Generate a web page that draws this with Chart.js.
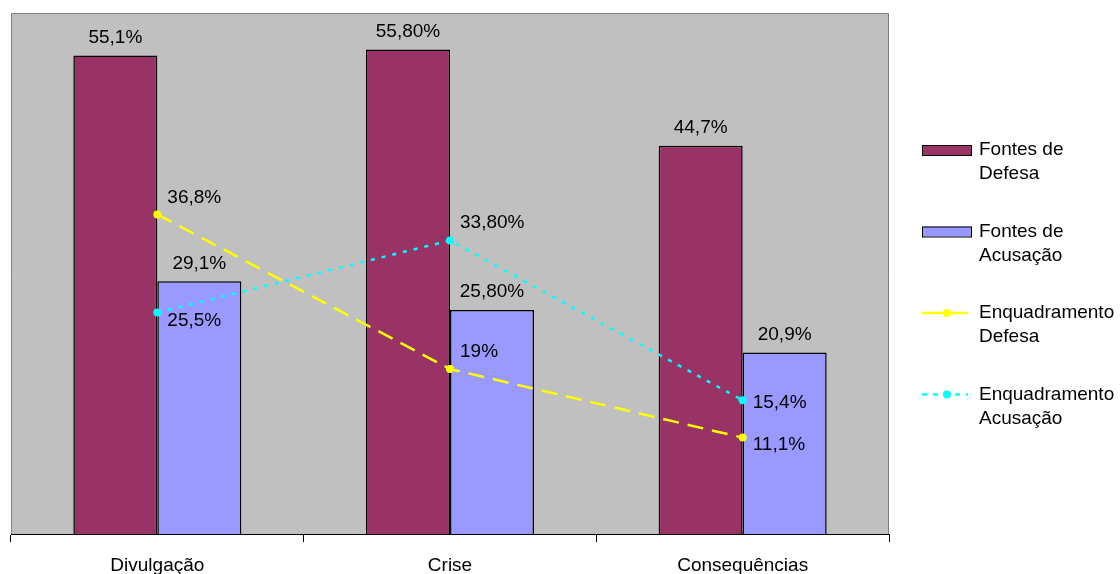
<!DOCTYPE html>
<html>
<head>
<meta charset="utf-8">
<script src="https://cdn.jsdelivr.net/npm/chart.js@4/dist/chart.umd.min.js"></script>
<style>
  body { margin: 0; background: #fff; }
  #wrap { width: 1120px; height: 574px; position: relative; }
</style>
</head>
<body>
<div id="wrap"><canvas id="c"></canvas></div>
<script>
var categories = ['Divulgação', 'Crise', 'Consequências'];
var fontesDefesa = [55.1, 55.8, 44.7];
var fontesAcusacao = [29.1, 25.8, 20.9];
var enqDefesa = [36.8, 19, 11.1];
var enqAcusacao = [25.5, 33.8, 15.4];
var lblFontesDefesa = ['55,1%', '55,80%', '44,7%'];
var lblFontesAcusacao = ['29,1%', '25,80%', '20,9%'];
var lblEnqDefesa = ['36,8%', '19%', '11,1%'];
var lblEnqAcusacao = ['25,5%', '33,80%', '15,4%'];

var FONT = '19px "Liberation Sans", Arial, sans-serif';

// background, frame, value labels and the two-line legend
var decor = {
    id: 'decor',
    beforeDraw: function(chart) {
        var a = chart.chartArea, ctx = chart.ctx;
        ctx.save();
        ctx.fillStyle = '#C0C0C0';
        ctx.fillRect(a.left, a.top, a.right - a.left, a.bottom - a.top);
        ctx.restore();
    },
    beforeDatasetsDraw: function(chart) {
        var a = chart.chartArea, ctx = chart.ctx;
        ctx.save();
        ctx.strokeStyle = '#808080';
        ctx.lineWidth = 1;
        ctx.beginPath();
        ctx.moveTo(a.left + 0.5, a.bottom);
        ctx.lineTo(a.left + 0.5, a.top + 0.5);
        ctx.lineTo(a.right - 0.5, a.top + 0.5);
        ctx.lineTo(a.right - 0.5, a.bottom);
        ctx.stroke();
        ctx.restore();
    },
    afterDatasetsDraw: function(chart) {
        var ctx = chart.ctx;
        ctx.save();
        ctx.font = FONT;
        ctx.fillStyle = '#000';
        chart.data.datasets.forEach(function(ds, i) {
            var meta = chart.getDatasetMeta(i);
            meta.data.forEach(function(el, j) {
                var txt = ds.valueLabels[j];
                if (ds.type === 'bar') {
                    ctx.textAlign = 'center';
                    ctx.textBaseline = 'middle';
                    ctx.fillText(txt, el.x, el.y - 18);
                } else {
                    ctx.textAlign = 'left';
                    ctx.textBaseline = 'middle';
                    ctx.fillText(txt, el.x + 10, el.y + ds.labelDy[j]);
                }
            });
        });

        // legend
        var lx = 922, tx = 979;
        chart.data.datasets.forEach(function(ds, i) {
            var cy = 150 + i * 81.5;
            if (ds.type === 'bar') {
                ctx.fillStyle = ds.backgroundColor;
                ctx.fillRect(lx, cy - 5, 49, 10);
                ctx.strokeStyle = '#000';
                ctx.lineWidth = 1;
                ctx.strokeRect(lx + 0.5, cy - 4.5, 49, 10);
            } else {
                ctx.strokeStyle = ds.borderColor;
                ctx.lineWidth = 2.5;
                ctx.setLineDash(ds.legendDash);
                ctx.beginPath();
                ctx.moveTo(lx, cy);
                ctx.lineTo(lx + 46, cy);
                ctx.stroke();
                ctx.setLineDash([]);
                ctx.fillStyle = ds.borderColor;
                ctx.beginPath();
                ctx.arc(lx + 25, cy, 4, 0, Math.PI * 2);
                ctx.fill();
            }
            ctx.fillStyle = '#000';
            ctx.textAlign = 'left';
            ctx.textBaseline = 'middle';
            ctx.fillText(ds.label[0], tx, cy);
            ctx.fillText(ds.label[1], tx, cy + 24);
        });
        ctx.restore();
    }
};

var chart = new Chart(document.getElementById('c'), {
    data: {
        labels: categories,
        datasets: [
            {
                type: 'bar',
                label: ['Fontes de', 'Defesa'],
                data: fontesDefesa,
                valueLabels: lblFontesDefesa,
                backgroundColor: '#993366',
                borderColor: '#000',
                borderWidth: 1.5,
                categoryPercentage: 0.574,
                barPercentage: 1,
                order: 2
            },
            {
                type: 'bar',
                label: ['Fontes de', 'Acusação'],
                data: fontesAcusacao,
                valueLabels: lblFontesAcusacao,
                backgroundColor: '#9999FF',
                borderColor: '#000',
                borderWidth: 1.5,
                categoryPercentage: 0.574,
                barPercentage: 1,
                order: 2
            },
            {
                type: 'line',
                label: ['Enquadramento', 'Defesa'],
                data: enqDefesa,
                valueLabels: lblEnqDefesa,
                labelDy: [-17, -17, 7],
                legendDash: [],
                borderColor: '#FFFF00',
                backgroundColor: '#FFFF00',
                borderWidth: 2.5,
                borderDash: [16, 9],
                pointRadius: 4,
                pointBorderWidth: 0,
                pointBackgroundColor: '#FFFF00',
                fill: false,
                order: 1
            },
            {
                type: 'line',
                label: ['Enquadramento', 'Acusação'],
                data: enqAcusacao,
                valueLabels: lblEnqAcusacao,
                labelDy: [8, -18, 2],
                legendDash: [5, 6],
                borderColor: '#00FFFF',
                backgroundColor: '#00FFFF',
                borderWidth: 2.5,
                borderDash: [4, 7],
                pointRadius: 4,
                pointBorderWidth: 0,
                pointBackgroundColor: '#00FFFF',
                fill: false,
                order: 0
            }
        ]
    },
    options: {
        responsive: true,
        maintainAspectRatio: false,
        animation: false,
        layout: { padding: { left: 11, top: 13, right: 231, bottom: 0 } },
        plugins: {
            legend: { display: false },
            tooltip: { enabled: false }
        },
        scales: {
            x: {
                offset: true,
                grid: {
                    offset: true,
                    drawOnChartArea: false,
                    drawTicks: true,
                    tickLength: 8,
                    color: '#000'
                },
                border: { display: true, color: '#000', width: 1 },
                ticks: {
                    color: '#000',
                    font: { family: '"Liberation Sans", Arial, sans-serif', size: 19 },
                    padding: 12,
                    maxRotation: 0
                },
                afterFit: function(scale) { scale.height = 40; }
            },
            y: {
                display: false,
                min: 0,
                max: 60
            }
        }
    },
    plugins: [decor]
});
</script>
</body>
</html>
